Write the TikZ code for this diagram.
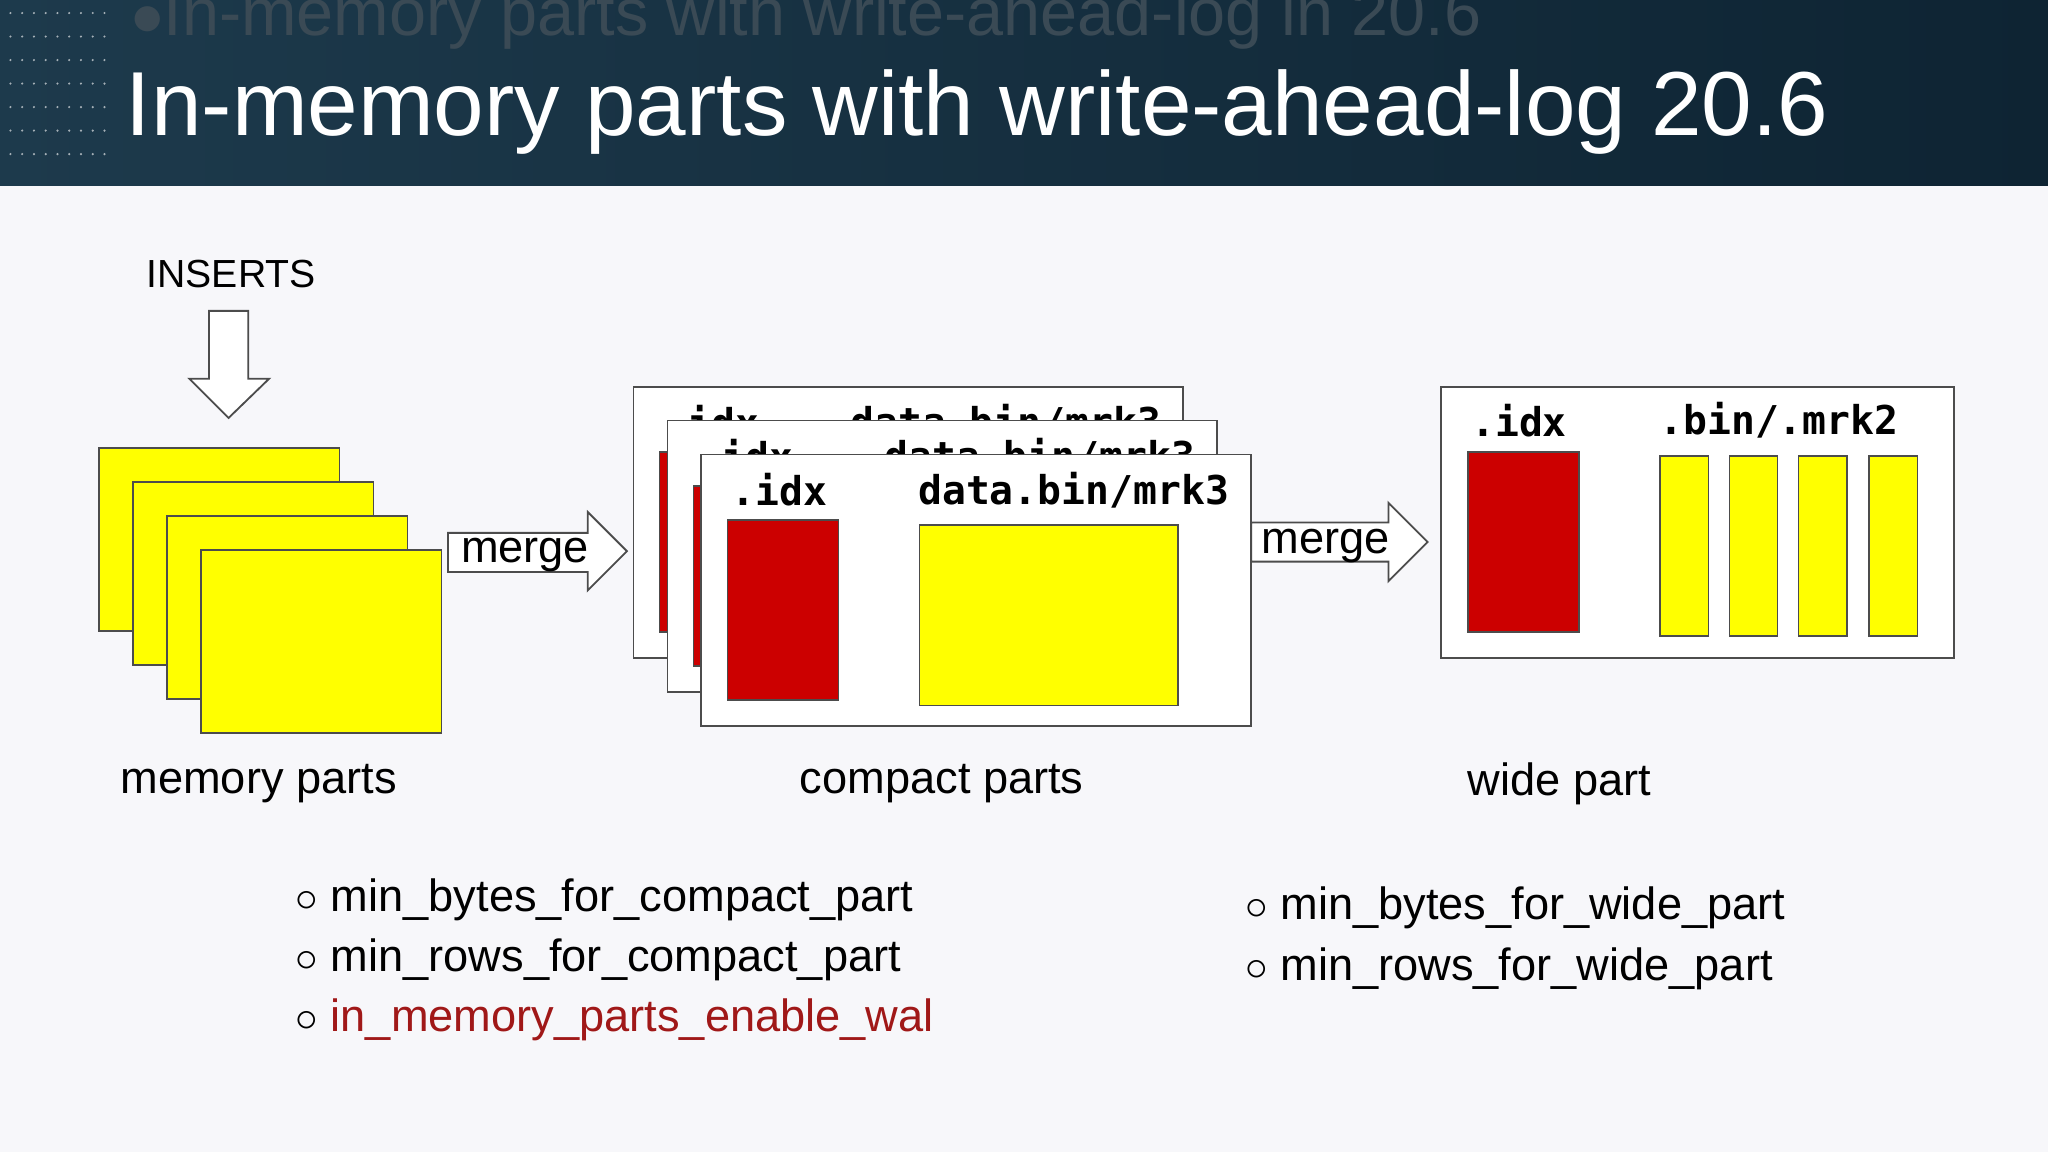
\documentclass[tikz,border=0pt]{standalone}
\usepackage{fontspec}
\setmainfont{Liberation Sans}
\newfontfamily\codefont{DejaVu Sans Mono}
\usetikzlibrary{shapes.arrows}
\definecolor{bg}{HTML}{F7F7FA}
\definecolor{navy}{HTML}{0E2433}
\definecolor{navyb}{HTML}{1D3A4C}
\definecolor{pred}{HTML}{CC0000}
\definecolor{pyel}{HTML}{FFFF00}
\definecolor{wred}{HTML}{A01818}
\definecolor{ghostc}{HTML}{3A4A55}
\tikzset{
 px/.style={x=0.5pt,y=-0.5pt},
 ybox/.style={fill=pyel,draw=black!70,line width=0.6pt},
 rbox/.style={fill=pred,draw=black!70,line width=0.6pt},
 frame/.style={fill=white,draw=black!70,line width=0.7pt},
 code/.style={font=\codefont\bfseries\fontsize{15.2}{17}\selectfont,inner sep=0pt},
 lab/.style={font=\fontsize{17.3}{20}\selectfont,inner sep=0pt},
 bul/.style={font=\fontsize{17.3}{20}\selectfont,inner sep=0pt,anchor=west},
 harrow/.style={fill=white,draw=black!70,line width=0.7pt}
}
\begin{document}
\begin{tikzpicture}[px]
\useasboundingbox (0,0) rectangle (1568,882);
\fill[bg] (0,0) rectangle (1568,882);
\shade[left color=navyb,right color=navy] (0,0) rectangle (1568,142);
\foreach \i in {0,...,8}{\foreach \j in {0,...,6}{\fill[white!60!navyb] (8+\i*9,10+\j*18) circle (0.9);}}
\node[anchor=west,text=ghostc,font=\fontsize{25.5}{28}\selectfont,inner sep=0pt] (ghost) at (100,14) {$\bullet$In-memory parts with write-ahead-log in 20.6};
\node[anchor=west,text=white,font=\fontsize{34.8}{38}\selectfont,inner sep=0pt] (title) at (96,86) {In-memory parts with write-ahead-log 20.6};
% inserts
\node[lab,font=\fontsize{15}{17}\selectfont] (ins) at (177,210) {INSERTS};
\draw[harrow] (160,238) -- (190,238) -- (190,290) -- (206,290) -- (175,320) -- (145,290) -- (160,290) -- cycle;
% memory parts
\foreach \k in {0,1,2,3}{\draw[ybox] (76+26*\k,343+26*\k) rectangle (260+26*\k,483+26*\k);}
% merge 1
\draw[harrow] (343,408) -- (450,408) -- (450,392) -- (480,422) -- (450,452) -- (450,438) -- (343,438) -- cycle;
\node[lab] (m1) at (402,425) {merge};
% compact parts
\foreach \k in {0,1,2}{
 \begin{scope}[shift={(26*\k-52,26*\k-52)}]
 \draw[frame] (537,348) rectangle (958,556);
 \node[code] at (597,375) {.idx};
 \node[code] at (822,375) {data.bin/mrk3};
 \draw[rbox] (557,398) rectangle (642,536);
 \draw[ybox] (704,402) rectangle (902,540);
 \end{scope}}
% merge 2
\draw[harrow] (958,400) -- (1063,400) -- (1063,385) -- (1093,415) -- (1063,445) -- (1063,430) -- (958,430) -- cycle;
\node[lab] (m2) at (1015,418) {merge};
% wide part
\draw[frame] (1103,296) rectangle (1496,504);
\node[code] (widx) at (1163,322) {.idx};
\node[code] (wbin) at (1362,322) {.bin/.mrk2};
\draw[rbox] (1124,346) rectangle (1209,484);
\foreach \x in {1271,1324,1377,1431}{\draw[ybox] (\x,349) rectangle (\x+37,487);}
% labels
\node[lab] (l1) at (198,600) {memory parts};
\node[lab] (l2) at (721,600) {compact parts};
\node[lab] (l3) at (1194,600) {wide part};
% bullets
\node[bul] (b1) at (226,689) {$\circ$ min\_bytes\_for\_compact\_part};
\node[bul] (b2) at (226,735) {$\circ$ min\_rows\_for\_compact\_part};
\node[bul] (b3) at (226,781) {$\circ$ \textcolor{wred}{in\_memory\_parts\_enable\_wal}};
\node[bul] (b4) at (953,695) {$\circ$ min\_bytes\_for\_wide\_part};
\node[bul] (b5) at (953,742) {$\circ$ min\_rows\_for\_wide\_part};
\end{tikzpicture}
\end{document}
